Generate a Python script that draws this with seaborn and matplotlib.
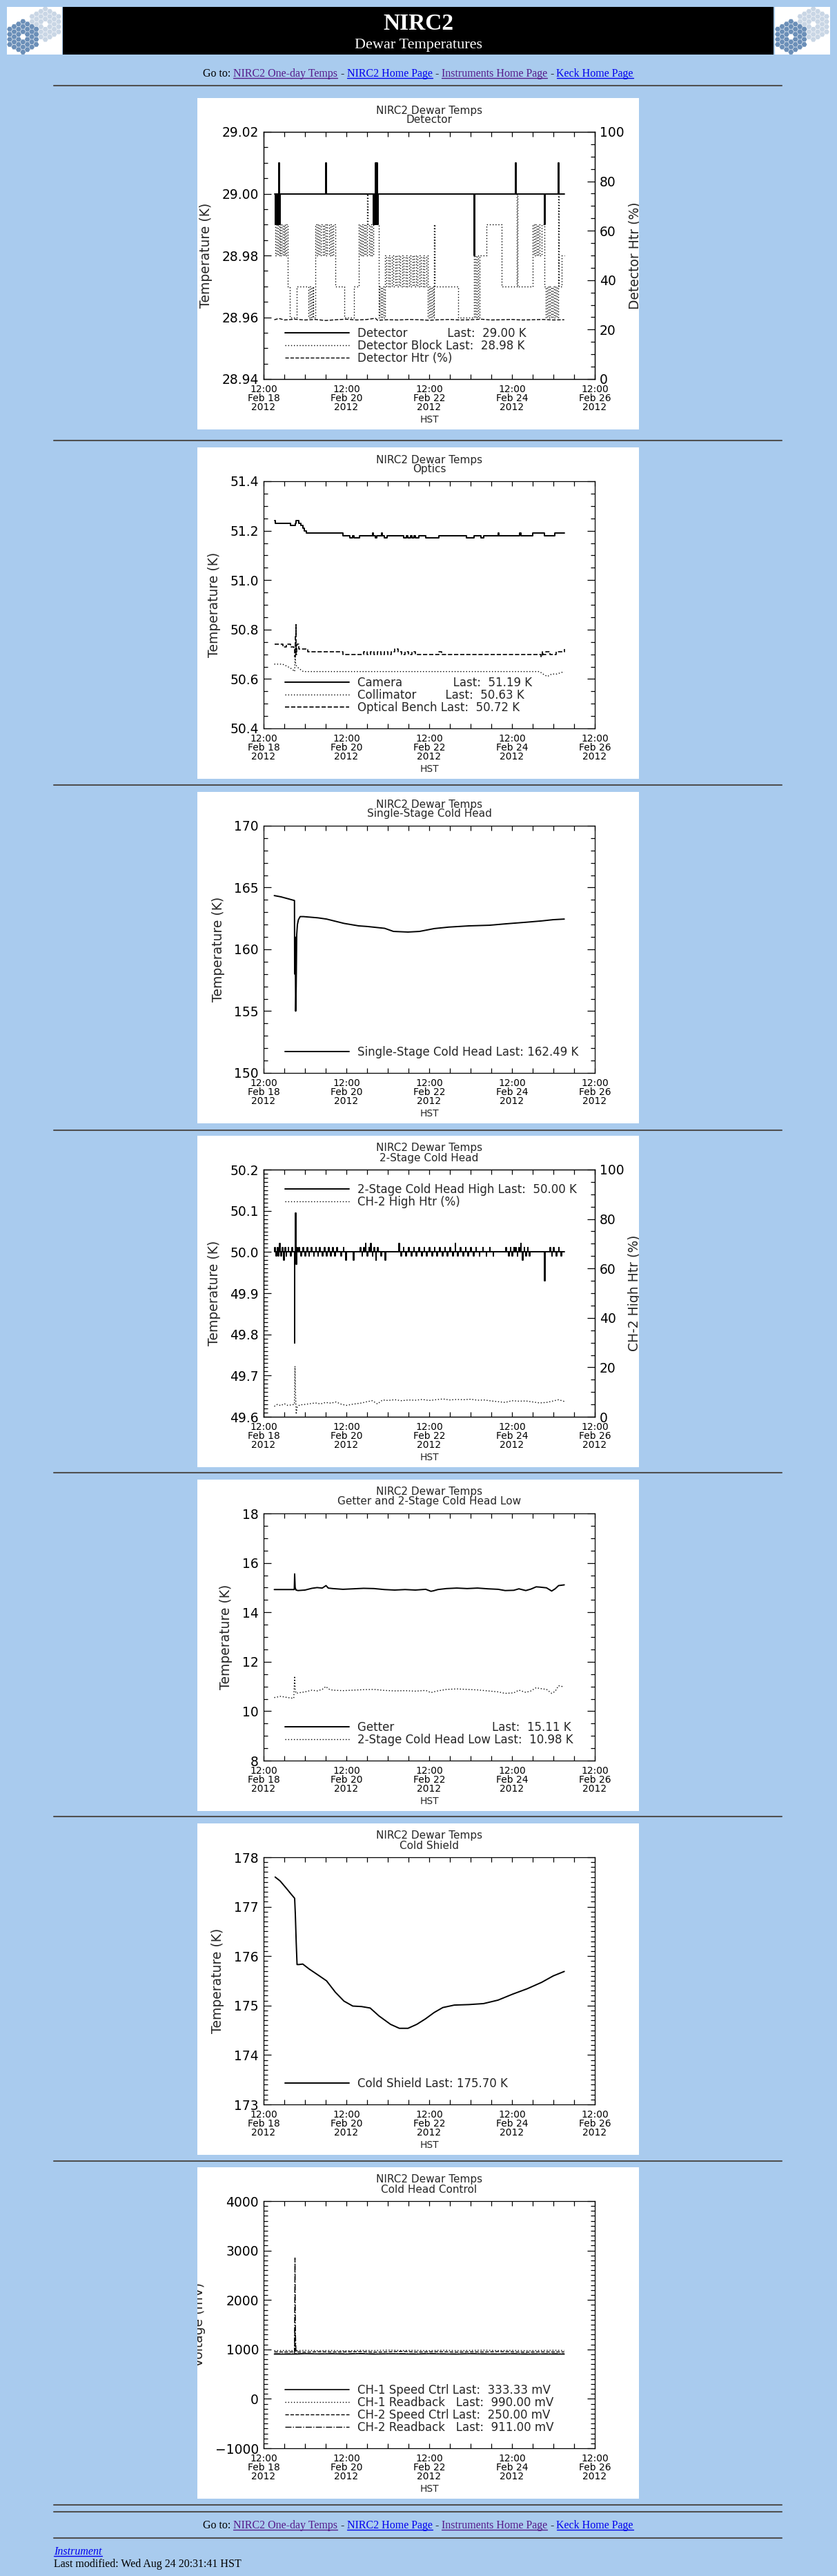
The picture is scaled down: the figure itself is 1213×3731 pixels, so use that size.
import numpy as np
import matplotlib
matplotlib.use("Agg")
import matplotlib.pyplot as plt
import seaborn as sns
from matplotlib.patches import Rectangle, RegularPolygon
from matplotlib.lines import Line2D
from matplotlib.ticker import MultipleLocator, FormatStrFormatter, ScalarFormatter
from matplotlib.transforms import Bbox, TransformedBbox

W, H = 1213, 3731
PAGE_BG = "#a9cbee"
VISITED = "#551a8b"
LINK = "#0000ee"
DOT = (0, (1, 2))

# x axis: hours after 12:00 Feb 18 2012 (HST)
x_ticks = [0, 48, 96, 144, 192]
x_tick_labels = ["12:00\nFeb 18\n2012", "12:00\nFeb 20\n2012", "12:00\nFeb 22\n2012",
                 "12:00\nFeb 24\n2012", "12:00\nFeb 26\n2012"]

panel_tops = [142, 648, 1147, 1645, 2143, 2641, 3139]
panel_titles = ["Detector", "Optics", "Single-Stage Cold Head", "2-Stage Cold Head",
                "Getter and 2-Stage Cold Head Low", "Cold Shield", "Cold Head Control"]
hr_rows = [124, 638, 1137, 1637, 2133, 2631, 3130, 3628, 3638, 3676]

goto_pieces = [("Go to:", "black", False), ("NIRC2 One-day Temps", VISITED, True),
               ("-", "black", False), ("NIRC2 Home Page", LINK, True),
               ("-", "black", False), ("Instruments Home Page", VISITED, True),
               ("-", "black", False), ("Keck Home Page", LINK, True)]

# ---- panel 1: detector
det_t = [6.2, 6.6, 7.0, 7.4, 7.8, 8.2, 8.6, 9.0, 9.4, 36.0, 36.4, 63.5, 63.9, 64.2, 64.6,
         65.0, 65.4, 65.8, 66.2, 121.9, 122.3, 146.1, 146.5, 162.6, 163.0, 170.6, 171.0, 174.3]
det_v = [29.00, 28.99, 29.00, 28.99, 29.00, 28.99, 29.01, 28.99, 29.00, 29.01, 29.00, 28.99,
         29.00, 28.99, 29.01, 28.99, 29.01, 28.99, 29.00, 28.98, 29.00, 29.01, 29.00, 28.99,
         29.00, 29.01, 29.00, 29.00]
blk_t = [6.2, 6.9, 7.6, 8.3, 9.0, 9.7, 10.4, 11.1, 11.8, 12.5, 13.2, 13.8,
         15.2, 19.2, 26.1, 26.8, 27.5, 28.2, 28.9, 29.8,
         30.6, 31.5, 32.4, 33.3, 34.2, 35.1, 36.0, 36.9, 37.8, 38.7, 39.6, 40.5, 41.6,
         46.6, 52.5, 55.1,
         55.9, 56.7, 57.5, 58.3, 59.1, 59.9, 60.3, 61.1, 61.9, 62.7, 63.5,
         64.0, 64.5, 65.0, 65.5, 66.0, 66.6,
         67.3, 68.0, 68.7, 69.4, 70.2,
         71.2, 72.2, 73.2, 74.2, 75.2, 76.2, 77.2, 78.2, 79.2, 80.2, 81.2, 82.2,
         83.2, 84.2, 85.2, 86.2, 87.2, 88.2, 89.2, 90.2, 91.2, 92.2, 93.2, 94.2, 95.2,
         96.0, 96.8, 97.6, 98.4, 98.9, 99.3,
         112.7, 122.1, 122.6, 123.4, 124.2, 125.0, 125.8,
         129.2, 137.9, 146.8, 147.2,
         156.1, 156.9, 157.7, 158.5, 159.3, 160.1, 161.2,
         162.8, 163.6, 164.4, 165.2, 166.0, 166.8, 167.6, 168.4, 169.2, 170.0,
         170.8, 171.2, 172.8, 174.3]
blk_v = [28.99, 28.98, 28.99, 28.98, 28.99, 28.98, 28.99, 28.98, 28.99, 28.98, 28.99, 28.97,
         28.96, 28.97, 28.96, 28.97, 28.96, 28.97, 28.96, 28.99,
         28.98, 28.99, 28.98, 28.99, 28.98, 28.99, 28.98, 28.99, 28.98, 28.99, 28.98, 28.99, 28.97,
         28.96, 28.97, 28.99,
         28.98, 28.99, 28.98, 28.99, 28.98, 29.00, 28.99, 28.98, 28.99, 28.98, 29.00,
         28.99, 29.00, 28.99, 29.00, 28.99, 28.96,
         28.97, 28.96, 28.97, 28.96, 28.98,
         28.97, 28.98, 28.97, 28.98, 28.97, 28.98, 28.97, 28.98, 28.97, 28.98, 28.97, 28.98,
         28.97, 28.98, 28.97, 28.98, 28.97, 28.98, 28.97, 28.98, 28.97, 28.98, 28.97, 28.98, 28.96,
         28.97, 28.96, 28.97, 28.96, 28.99, 28.97,
         28.96, 28.98, 28.96, 28.98, 28.96, 28.98, 28.98,
         28.99, 28.97, 29.00, 28.97,
         28.99, 28.98, 28.99, 28.98, 28.99, 28.98, 28.99,
         28.97, 28.96, 28.97, 28.96, 28.97, 28.96, 28.97, 28.96, 28.97, 28.96,
         29.00, 28.97, 28.98, 28.98]
htr_t = [6.2, 9.0, 12.0, 18.0, 24.0, 30.0, 36.0, 42.0, 48.0, 54.0, 60.0, 64.8, 66.0, 72.0,
         78.0, 84.0, 90.0, 96.0, 102.0, 108.0, 114.0, 120.0, 126.0, 132.0, 138.0, 144.0,
         150.0, 156.0, 162.0, 168.0, 174.3]
htr_v = [24.0, 24.5, 23.9, 24.2, 23.9, 24.1, 23.7, 24.0, 24.2, 23.9, 24.1, 24.6, 23.8, 24.0,
         23.9, 24.1, 24.0, 23.8, 24.0, 24.1, 23.9, 24.0, 24.2, 23.9, 24.0, 24.1, 23.9, 24.0,
         24.1, 23.9, 24.0]

# ---- panel 2: optics
cam_t = [6.2, 6.7, 15.5, 18.2, 18.9, 20.5, 21.6, 22.6, 23.6, 24.8, 45.8, 50.0, 51.5, 52.5,
         55.4, 63.0, 63.6, 64.6, 65.4, 68.4, 68.9, 69.8, 71.6, 81.2, 82.6, 83.4, 85.0, 86.0,
         87.2, 88.0, 90.1, 93.8, 101.4, 117.4, 122.1, 125.8, 127.5, 135.9, 136.4, 148.5,
         149.3, 156.1, 162.8, 168.7, 174.3]
cam_v = [51.24, 51.23, 51.22, 51.23, 51.24, 51.23, 51.22, 51.21, 51.20, 51.19, 51.18, 51.17,
         51.18, 51.17, 51.18, 51.19, 51.18, 51.17, 51.18, 51.19, 51.18, 51.17, 51.18, 51.17,
         51.18, 51.17, 51.18, 51.17, 51.18, 51.17, 51.18, 51.17, 51.18, 51.17, 51.18, 51.17,
         51.18, 51.19, 51.18, 51.19, 51.18, 51.19, 51.18, 51.19, 51.19]
coll_t = [6.2, 11.0, 14.0, 16.5, 18.0, 18.3, 18.6, 19.3, 21.0, 23.0, 25.6, 160.0, 162.0,
          164.5, 167.0, 170.0, 174.3]
coll_v = [50.66, 50.66, 50.65, 50.64, 50.63, 50.69, 50.66, 50.65, 50.64, 50.63, 50.63, 50.63,
          50.62, 50.61, 50.62, 50.62, 50.63]
bench_t = [6.2, 11.0, 13.0, 15.5, 17.6, 18.0, 18.3, 18.6, 18.9, 19.3, 20.5, 25.6, 45.8, 58.0,
           60.0, 62.0, 64.0, 66.0, 68.0, 70.0, 72.0, 74.0, 76.0, 78.0, 80.0, 82.0, 84.0, 86.0,
           88.0, 90.4, 101.4, 103.0, 160.8, 161.4, 162.0, 163.7, 166.0, 169.6, 174.3]
bench_v = [50.74, 50.73, 50.74, 50.73, 50.72, 50.69, 50.78, 50.82, 50.70, 50.74, 50.72, 50.71,
           50.70, 50.71, 50.70, 50.71, 50.70, 50.71, 50.70, 50.71, 50.70, 50.71, 50.72, 50.71,
           50.70, 50.71, 50.70, 50.71, 50.70, 50.70, 50.71, 50.70, 50.69, 50.71, 50.70, 50.71,
           50.70, 50.71, 50.72]

# ---- panel 3: single-stage cold head
ss_t = [6.2, 10.0, 14.0, 17.9, 18.0, 18.3, 18.6, 18.9, 19.2, 19.6, 20.2, 21.2, 23.1, 31.5,
        36.5, 46.6, 55.1, 60.1, 70.2, 75.3, 83.7, 90.4, 98.9, 107.3, 119.1, 130.9, 140.9,
        152.8, 161.2, 167.9, 174.3]
ss_v = [164.35, 164.25, 164.1, 163.95, 158.0, 161.0, 155.0, 157.0, 161.2, 162.0, 162.4,
        162.65, 162.65, 162.55, 162.45, 162.1, 161.9, 161.85, 161.7, 161.45, 161.4, 161.45,
        161.68, 161.8, 161.9, 161.95, 162.07, 162.2, 162.3, 162.4, 162.45]

# ---- panel 4: 2-stage cold head high (excursions from 50.00 K) and heater
ch2_spike_t = [6.5, 7.2, 7.9, 8.5, 9.3, 10.0, 10.8, 11.5, 12.4, 13.0, 14.2, 15.5, 16.4,
               17.8, 18.2, 18.5, 18.8, 19.3,
               20.5, 21.6, 22.8, 24.0, 25.1, 26.2, 27.5, 29.0, 30.2, 31.4, 32.5, 34.0, 35.2,
               36.4, 37.5, 38.8, 40.0, 41.2, 42.5, 44.8, 46.2, 47.5,
               52.0, 56.0, 57.0, 58.0, 59.0, 60.0, 61.0, 62.0, 63.0, 64.0, 65.0, 66.0, 68.0, 70.5,
               78.4, 79.5, 81.0, 82.5, 84.0, 85.5, 87.0, 88.5, 90.0, 91.5, 93.0, 94.5, 96.0,
               97.5, 99.0, 100.5, 102.0, 103.5, 105.0, 106.5, 108.0, 109.5, 111.0, 112.5,
               114.0, 115.5, 117.0, 118.5, 120.0, 121.5, 123.0, 125.0, 127.0, 129.0, 131.0, 133.0,
               140.5, 142.0, 143.0, 144.0, 145.0, 146.0, 147.0, 148.0, 149.0, 150.0, 151.0,
               152.0, 153.0, 154.0,
               162.7, 163.0, 166.0, 167.0, 168.0, 169.5, 171.0, 172.5]
ch2_spike_v = [50.01, 49.99, 50.01, 49.99, 50.02, 49.99, 50.01, 49.98, 50.01, 49.99, 50.01, 49.99, 50.01,
               49.78, 50.03, 50.095, 49.97, 50.01,
               50.01, 49.99, 50.01, 49.99, 50.01, 49.99, 50.01, 49.99, 50.01, 49.99, 50.01, 49.99, 50.01,
               49.99, 50.01, 49.99, 50.01, 49.99, 50.01, 49.99, 50.01, 49.98,
               49.98, 50.01, 49.99, 50.01, 50.02, 49.99, 50.01, 50.02, 49.99, 50.01, 49.98, 50.01, 49.99, 49.98,
               50.02, 49.99, 50.01, 49.99, 50.01, 49.99, 50.01, 49.99, 50.01, 49.99, 50.01, 49.99, 50.01,
               49.99, 50.01, 49.99, 50.01, 49.99, 50.01, 49.99, 50.01, 49.99, 50.02, 49.99,
               50.01, 49.99, 50.01, 49.99, 50.01, 49.99, 50.01, 49.99, 50.01, 49.99, 50.01, 49.99,
               50.01, 49.99, 50.01, 49.99, 50.01, 50.01, 49.99, 50.01, 50.02, 49.98, 50.01,
               49.99, 50.01, 49.99,
               49.93, 49.98, 50.01, 49.99, 50.01, 49.99, 50.01, 49.99]
htr2_t = [6.2, 8.0, 10.0, 12.0, 14.0, 16.0, 17.9, 18.2, 18.5, 18.9, 19.5, 21.0, 24.0, 27.0,
          30.0, 33.0, 36.0, 39.0, 42.0, 45.0, 48.0, 51.0, 54.0, 57.0, 60.0, 63.0, 66.0, 69.0,
          72.0, 76.0, 80.0, 84.0, 88.0, 92.0, 96.0, 100.0, 104.0, 108.0, 112.0, 116.0, 120.0,
          124.0, 128.0, 132.0, 136.0, 140.0, 144.0, 148.0, 152.0, 156.0, 160.0, 164.0, 168.0,
          171.0, 174.3]
htr2_v = [4.2, 5.0, 4.5, 5.3, 4.6, 4.8, 5.0, 20.5, 10.0, 1.0, 4.0, 4.8, 5.0, 5.3, 5.6, 5.2,
          5.8, 5.5, 6.0, 5.1, 4.6, 5.0, 5.3, 5.6, 6.1, 6.5, 5.2, 6.8, 6.6, 6.9, 6.5, 6.8, 6.7,
          7.0, 6.6, 6.9, 7.2, 6.8, 7.0, 6.9, 7.1, 6.7, 6.8, 6.4, 6.1, 5.8, 6.5, 6.3, 6.4, 6.0,
          5.6, 5.8, 6.4, 6.9, 6.2]

# ---- panel 5: getter and 2-stage cold head low
getter_t = [6.2, 17.8, 18.0, 18.3, 18.8, 20.0, 24.0, 28.0, 31.0, 34.0, 36.2, 37.5, 40.0, 46.0,
            52.0, 58.0, 64.0, 70.0, 76.0, 82.0, 88.0, 94.0, 97.0, 98.5, 101.0, 106.0, 112.0,
            118.0, 124.0, 130.0, 136.0, 140.0, 145.0, 148.0, 152.0, 155.0, 158.0, 160.0, 164.0,
            167.0, 169.0, 171.0, 174.3]
getter_v = [14.92, 14.92, 15.55, 15.0, 14.90, 14.88, 14.90, 14.97, 15.0, 14.98, 15.08, 14.98,
            14.96, 14.93, 14.95, 14.97, 14.96, 14.92, 14.90, 14.92, 14.90, 14.93, 14.85, 14.87,
            14.92, 14.96, 14.98, 14.96, 14.98, 14.95, 14.93, 14.88, 14.89, 14.95, 14.88, 14.94,
            15.03, 15.02, 14.99, 14.86, 14.95, 15.08, 15.11]
low_t = [6.2, 10.0, 14.0, 17.5, 18.0, 18.3, 18.8, 20.0, 24.0, 28.0, 31.0, 34.0, 36.2, 37.5,
         40.0, 46.0, 52.0, 58.0, 64.0, 70.0, 76.0, 82.0, 88.0, 94.0, 97.0, 98.5, 101.0, 106.0,
         112.0, 118.0, 124.0, 130.0, 136.0, 140.0, 145.0, 148.0, 152.0, 155.0, 158.0, 160.0,
         164.0, 167.0, 169.0, 171.0, 174.3]
low_v = [10.55, 10.6, 10.55, 10.52, 11.42, 10.9, 10.72, 10.74, 10.78, 10.85, 10.82, 10.88,
         11.0, 10.9, 10.85, 10.83, 10.85, 10.87, 10.88, 10.84, 10.82, 10.83, 10.81, 10.84,
         10.75, 10.78, 10.82, 10.88, 10.90, 10.88, 10.86, 10.82, 10.78, 10.72, 10.74, 10.85,
         10.76, 10.82, 10.95, 10.92, 10.88, 10.72, 10.8, 11.03, 10.98]

# ---- panel 6: cold shield
shield_t = [6.7, 9.6, 13.0, 16.3, 18.0, 18.4, 18.9, 19.4, 20.5, 22.7, 26.4, 31.5, 36.5, 41.6,
            46.6, 51.7, 56.8, 61.8, 66.9, 73.6, 78.7, 83.7, 88.8, 93.8, 98.9, 103.9, 110.6,
            119.1, 127.5, 135.9, 144.3, 152.8, 161.2, 167.9, 174.3]
shield_v = [177.60, 177.52, 177.38, 177.24, 177.17, 176.85, 176.29, 175.83, 175.83, 175.84,
            175.74, 175.62, 175.50, 175.27, 175.09, 174.99, 174.98, 174.95, 174.79, 174.62,
            174.54, 174.54, 174.62, 174.73, 174.86, 174.96, 175.01, 175.02, 175.04, 175.11,
            175.23, 175.34, 175.47, 175.60, 175.69]

# ---- panel 7: cold head control (mV)
cc_t = [6.2, 12.0, 17.9, 18.2, 18.5, 18.8, 24.0, 32.0, 40.0, 48.0, 56.0, 64.0, 72.0, 80.0,
        88.0, 96.0, 104.0, 112.0, 120.0, 128.0, 136.0, 144.0, 152.0, 160.0, 168.0, 174.3]
ch1_speed_v = [905, 905, 905, 905, 910, 905, 912, 908, 910, 906, 912, 905, 910, 908, 905, 910,
               907, 905, 910, 906, 905, 908, 904, 906, 905, 905]
ch1_read_v = [975, 978, 975, 990, 980, 975, 980, 975, 978, 972, 980, 976, 985, 978, 980, 975,
              982, 976, 979, 984, 976, 980, 975, 978, 982, 978]
ch2_speed_v = [950, 948, 950, 1400, 1000, 950, 945, 952, 948, 950, 955, 945, 950, 960, 948, 950,
               952, 946, 950, 948, 955, 950, 945, 950, 948, 950]
ch2_read_v = [912, 910, 912, 2850, 1300, 915, 910, 908, 912, 910, 915, 910, 908, 912, 910, 914,
              910, 908, 912, 910, 908, 912, 910, 909, 912, 911]


def px(x):
    return x / W


def py(y):
    return 1 - y / H


sns.set_style("ticks")
plt.rcParams["font.family"] = ["DejaVu Sans"]
plt.rcParams["axes.linewidth"] = 0.9
plt.rcParams["axes.edgecolor"] = "black"

fig = plt.figure(figsize=(W / 100, H / 100), dpi=100, facecolor=PAGE_BG)
renderer = fig.canvas.get_renderer()


def panel_clip(top):
    return TransformedBbox(Bbox.from_extents(px(286), py(top + 480), px(926), py(top)),
                           fig.transFigure)


def make_panel(i, ylim, major, minor, fmt, ylabel):
    top = panel_tops[i]
    fig.add_artist(Rectangle((px(286), py(top + 480)), 640 / W, 480 / H,
                             transform=fig.transFigure, fc="white", ec="none", zorder=-5))
    ax = fig.add_axes([px(382), py(top + 407), 480 / W, 358 / H])
    ax.set_facecolor("white")
    fig.text(px(622), py(top + 18), "NIRC2 Dewar Temps", ha="center", va="center", fontsize=11)
    fig.text(px(622), py(top + 32), panel_titles[i], ha="center", va="center", fontsize=11)
    ax.set_xlim(0, 192)
    ax.set_ylim(*ylim)
    ax.set_xticks(x_ticks)
    ax.set_xticklabels(x_tick_labels, fontsize=10, linespacing=0.9)
    ax.xaxis.set_minor_locator(MultipleLocator(12))
    ax.yaxis.set_major_locator(MultipleLocator(major))
    ax.yaxis.set_minor_locator(MultipleLocator(minor))
    ax.yaxis.set_major_formatter(fmt)
    ax.tick_params(which="both", direction="in", top=True, right=True, colors="black")
    ax.tick_params(axis="y", which="major", length=8, width=0.9, labelsize=13.5, pad=5)
    ax.tick_params(axis="y", which="minor", length=4, width=0.9)
    ax.tick_params(axis="x", which="both", length=5, width=0.9, pad=6)
    ax.set_xlabel("HST", fontsize=10, labelpad=3)
    ax.set_ylabel(ylabel, fontsize=13.5, labelpad=10)
    ax.yaxis.label.set_clip_box(panel_clip(top))
    ax.yaxis.label.set_clip_on(True)
    for s in ax.spines.values():
        s.set_color("black")
    return ax


def make_twin(ax, i, ylabel):
    ax2 = ax.twinx()
    ax.tick_params(which="both", right=False)
    ax2.set_ylim(0, 100)
    ax2.yaxis.set_major_locator(MultipleLocator(20))
    ax2.yaxis.set_minor_locator(MultipleLocator(5))
    ax2.yaxis.set_major_formatter(FormatStrFormatter("%d"))
    ax2.tick_params(which="both", direction="in", right=True, left=False, colors="black")
    ax2.tick_params(which="major", length=8, width=0.9, labelsize=13.5, pad=5)
    ax2.tick_params(which="minor", length=4, width=0.9)
    ax2.set_ylabel(ylabel, fontsize=13.5, labelpad=4, rotation=90)
    ax2.yaxis.label.set_clip_box(panel_clip(panel_tops[i]))
    ax2.yaxis.label.set_clip_on(True)
    return ax2


def line(ax, t, v, ls="-", lw=1.0, steps=False):
    kw = dict(drawstyle="steps-post") if steps else {}
    sns.lineplot(x=t, y=v, ax=ax, estimator=None, sort=False, legend=False,
                 color="black", linestyle=ls, lw=lw, **kw)
    return ax.get_lines()[-1]


def legend(ax, handles, labels, upper=False):
    if upper:
        kw = dict(loc="upper left", bbox_to_anchor=(0.064, 0.945))
    else:
        kw = dict(loc="lower left", bbox_to_anchor=(0.064, 0.06))
    ax.legend(handles, labels, frameon=False, fontsize=12, handlelength=5.6,
              handletextpad=0.7, labelspacing=0.0, borderpad=0, borderaxespad=0, **kw)


# panel 1
ax = make_panel(0, (28.94, 29.02), 0.02, 0.005, FormatStrFormatter("%.2f"), "Temperature (K)")
ax2 = make_twin(ax, 0, "Detector Htr (%)")
h1 = line(ax, det_t, det_v, "-", 1.4, steps=True)
h2 = line(ax, blk_t, blk_v, DOT, 1.0, steps=True)
h3 = line(ax2, htr_t, htr_v, "--", 1.0)
legend(ax2, [h1, h2, h3], ["Detector           Last:  29.00 K", "Detector Block Last:  28.98 K",
                           "Detector Htr (%)"])

# panel 2
ax = make_panel(1, (50.4, 51.4), 0.2, 0.05, FormatStrFormatter("%.1f"), "Temperature (K)")
h1 = line(ax, cam_t, cam_v, "-", 1.4, steps=True)
h2 = line(ax, coll_t, coll_v, DOT, 1.0)
h3 = line(ax, bench_t, bench_v, "--", 1.2, steps=True)
legend(ax, [h1, h2, h3], ["Camera              Last:  51.19 K", "Collimator        Last:  50.63 K",
                          "Optical Bench Last:  50.72 K"])

# panel 3
ax = make_panel(2, (150, 170), 5, 1, FormatStrFormatter("%d"), "Temperature (K)")
h1 = line(ax, ss_t, ss_v, "-", 1.4)
legend(ax, [h1], ["Single-Stage Cold Head Last: 162.49 K"])

# panel 4
ch2_t, ch2_v = [6.2], [50.00]
for t, v in zip(ch2_spike_t, ch2_spike_v):
    ch2_t += [t, t + 0.3]
    ch2_v += [v, 50.00]
ch2_t.append(174.3)
ch2_v.append(50.00)
ax = make_panel(3, (49.6, 50.2), 0.1, 0.01, FormatStrFormatter("%.1f"), "Temperature (K)")
ax2 = make_twin(ax, 3, "CH-2 High Htr (%)")
h1 = line(ax, ch2_t, ch2_v, "-", 1.4, steps=True)
h2 = line(ax2, htr2_t, htr2_v, DOT, 1.0)
legend(ax2, [h1, h2], ["2-Stage Cold Head High Last:  50.00 K", "CH-2 High Htr (%)"], upper=True)

# panel 5
ax = make_panel(4, (8, 18), 2, 0.5, FormatStrFormatter("%d"), "Temperature (K)")
h1 = line(ax, getter_t, getter_v, "-", 1.4)
h2 = line(ax, low_t, low_v, DOT, 1.0)
legend(ax, [h1, h2], ["Getter" + " " * 27 + "Last:  15.11 K",
                      "2-Stage Cold Head Low Last:  10.98 K"])

# panel 6
ax = make_panel(5, (173, 178), 1, 0.1, FormatStrFormatter("%d"), "Temperature (K)")
h1 = line(ax, shield_t, shield_v, "-", 1.4)
legend(ax, [h1], ["Cold Shield Last: 175.70 K"])

# panel 7
sf = ScalarFormatter(useOffset=False)
ax = make_panel(6, (-1000, 4000), 1000, 100, sf, "Voltage (mV)")
h1 = line(ax, cc_t, ch1_speed_v, "-", 1.2)
h2 = line(ax, cc_t, ch1_read_v, DOT, 1.0)
h3 = line(ax, cc_t, ch2_speed_v, "--", 1.0)
h4 = line(ax, cc_t, ch2_read_v, "-.", 1.0)
legend(ax, [h1, h2, h3, h4], ["CH-1 Speed Ctrl Last:  333.33 mV", "CH-1 Readback   Last:  990.00 mV",
                              "CH-2 Speed Ctrl Last:  250.00 mV", "CH-2 Readback   Last:  911.00 mV"])

# ---- page furniture
fig.add_artist(Rectangle((px(91), py(79)), 1030 / W, 69 / H, transform=fig.transFigure,
                         fc="black", ec="none", zorder=-4))
fig.text(px(606), py(43), "NIRC2", color="white", fontsize=24, fontweight="bold",
         family="Liberation Serif", ha="center", va="baseline")
fig.text(px(606), py(70), "Dewar Temperatures", color="white", fontsize=16,
         family="Liberation Serif", ha="center", va="baseline")


def keck_logo(x0):
    lax = fig.add_axes([px(x0), py(79), 80 / W, 69 / H])
    lax.set_xlim(0, 80)
    lax.set_ylim(69, 0)
    lax.set_axis_off()
    lax.add_patch(Rectangle((0, 0), 80, 69, fc="white", ec="none"))
    s = 4.27
    for cx, cy, col in [(55.7, 25.0, "#c9d6e5"), (23.3, 43.3, "#6b8fb8")]:
        for q in range(-3, 4):
            for r in range(-3, 4):
                d = max(abs(q), abs(r), abs(q + r))
                if 1 <= d <= 3:
                    lax.add_patch(RegularPolygon((cx + 1.5 * s * q, cy + np.sqrt(3) * s * (r + q / 2)),
                                                 6, radius=s * 0.92, orientation=np.pi / 6,
                                                 fc=col, ec="none"))


keck_logo(10)
keck_logo(1123)

for y in hr_rows:
    fig.add_artist(Line2D([px(78), px(1133)], [py(y), py(y)], color="#505050", lw=1.5))


def goto_line(y_base):
    gap = 4
    items = []
    for text, color, link in goto_pieces:
        t = fig.text(0, py(y_base), text, color=color, fontsize=11.5,
                     family="Liberation Serif", va="baseline", ha="left")
        items.append((t, t.get_window_extent(renderer).width, color, link))
    total = sum(it[1] for it in items) + gap * (len(items) - 1)
    x = 606 - total / 2
    for t, w, color, link in items:
        t.set_x(px(x))
        if link:
            fig.add_artist(Line2D([px(x), px(x + w)], [py(y_base + 2)] * 2, color=color, lw=1))
        x += w + gap


goto_line(111)
goto_line(3662)

t = fig.text(px(78), py(3700), "Instrument", color=LINK, fontsize=11.5, style="italic",
             family="Liberation Serif", va="baseline")
w = t.get_window_extent(renderer).width
fig.add_artist(Line2D([px(78), px(78 + w)], [py(3702)] * 2, color=LINK, lw=1))
fig.text(px(78), py(3718), "Last modified: Wed Aug 24 20:31:41 HST", color="black",
         fontsize=11.5, family="Liberation Serif", va="baseline")

fig.savefig("out.png", dpi=100, facecolor=PAGE_BG)
